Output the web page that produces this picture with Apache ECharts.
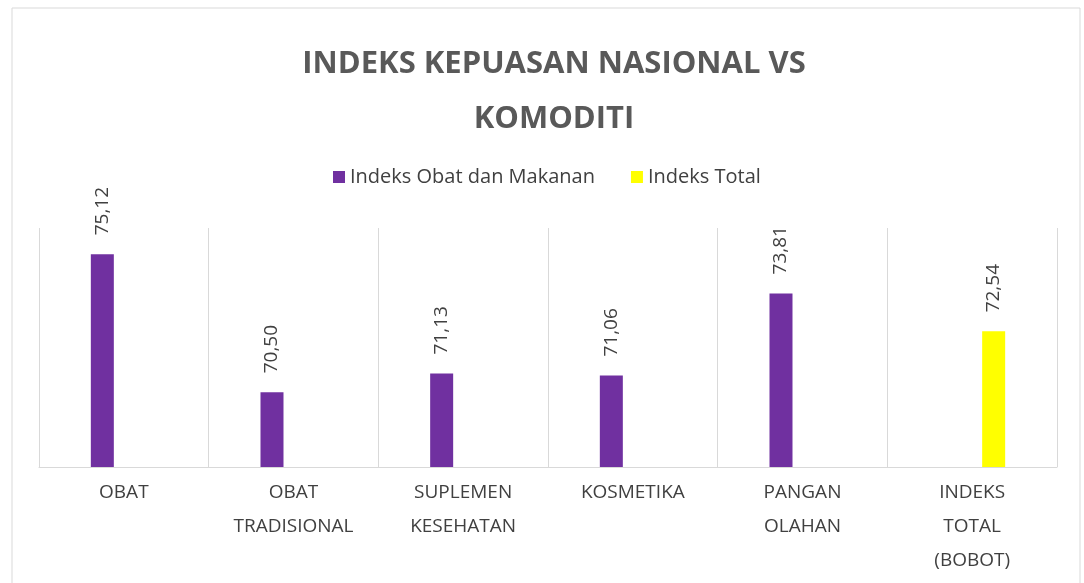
<!DOCTYPE html>
<html>
<head>
<meta charset="utf-8">
<style>
  html, body { margin: 0; padding: 0; background: #fff; }
  #chart { width: 1084px; height: 583px; }
</style>
<script src="https://cdn.jsdelivr.net/npm/echarts@6/dist/echarts.min.js"></script>
</head>
<body>
<div id="chart"></div>
<script>
// kategori komoditi (label sumbu x)
const categories = [
  'OBAT',
  'OBAT\nTRADISIONAL',
  'SUPLEMEN\nKESEHATAN',
  'KOSMETIKA',
  'PANGAN\nOLAHAN',
  'INDEKS\nTOTAL\n(BOBOT)'
]

// nilai indeks per seri
const indeksObatMakanan = [75.12, 70.50, 71.13, 71.06, 73.81, '-']
const indeksTotal = ['-', '-', '-', '-', '-', 72.54]

const fontFamily = '"Open Sans", sans-serif'

const chart = echarts.init(document.getElementById('chart'))

// format angka gaya Indonesia: koma desimal
const formatNilai = (p) => Number(p.value).toFixed(2).replace('.', ',')

const labelNilai = {
  show: true,
  position: 'top',
  rotate: 90,
  align: 'left',
  verticalAlign: 'middle',
  distance: 19,
  fontSize: 19,
  fontFamily: fontFamily,
  color: '#404040',
  formatter: formatNilai
}

const option = {
  backgroundColor: '#ffffff',
  title: {
    text: 'INDEKS KEPUASAN NASIONAL VS\nKOMODITI',
    left: 549,
    top: 32,
    textAlign: 'center',
    textStyle: {
      fontFamily: fontFamily,
      fontSize: 31,
      fontWeight: 'bold',
      color: '#595959',
      lineHeight: 55
    }
  },
  legend: {
    left: 328,
    top: 162,
    itemWidth: 12,
    itemHeight: 12,
    itemGap: 36,
    icon: 'rect',
    textStyle: {
      fontFamily: fontFamily,
      fontSize: 20,
      color: '#404040'
    },
    data: ['Indeks Obat dan Makanan', 'Indeks Total']
  },
  graphic: [{
    type: 'rect',
    shape: { x: 12, y: 8, width: 1068, height: 600 },
    style: { fill: 'none', stroke: '#d9d9d9', lineWidth: 1 },
    silent: true
  }],
  grid: {
    left: 39,
    right: 27,
    top: 228,
    bottom: 116
  },
  xAxis: {
    type: 'category',
    data: categories,
    axisLine: { show: true, lineStyle: { color: '#d9d9d9' } },
    axisTick: { show: false },
    splitLine: { show: true, lineStyle: { color: '#d9d9d9' } },
    axisLabel: {
      interval: 0,
      margin: 9,
      fontFamily: fontFamily,
      fontSize: 19,
      lineHeight: 34,
      color: '#404040'
    }
  },
  yAxis: {
    type: 'value',
    min: 68,
    max: 76,
    show: false
  },
  series: [
    {
      name: 'Indeks Obat dan Makanan',
      type: 'bar',
      data: indeksObatMakanan,
      barWidth: 23,
      barGap: '87%',
      itemStyle: { color: '#7030a0' },
      label: labelNilai
    },
    {
      name: 'Indeks Total',
      type: 'bar',
      data: indeksTotal,
      barWidth: 23,
      barGap: '87%',
      itemStyle: { color: '#ffff00' },
      label: labelNilai
    }
  ]
}

chart.setOption(option)
</script>
</body>
</html>
